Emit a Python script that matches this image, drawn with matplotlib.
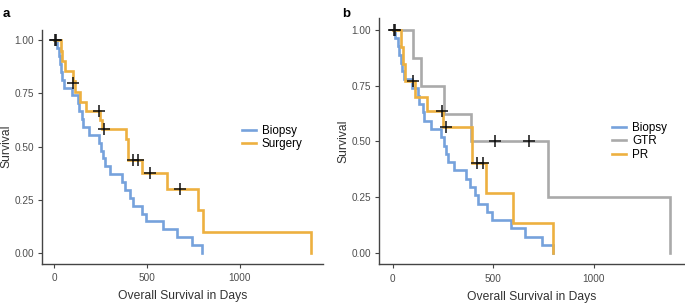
import matplotlib
matplotlib.use("Agg")
import matplotlib.pyplot as plt

plt.rcParams['font.family'] = ['Liberation Sans', 'DejaVu Sans']

# ---- data (days, survival after each step) ----
biopsy_days = [0, 13, 25, 30, 38, 43, 54, 94, 125, 131, 148, 153, 188, 240, 252, 262, 275, 302,
               365, 382, 410, 422, 470, 493, 587, 660, 740, 795]
biopsy_surv = [1.0] + [k / 27 for k in range(26, -1, -1)]

surgery_days = [0, 34, 41, 60, 100, 112, 138, 170, 247, 255, 387, 395, 470, 607, 775, 798, 1380]
surgery_surv = [1.0, 0.952, 0.905, 0.857, 0.81, 0.759, 0.712, 0.667, 0.625, 0.583, 0.535,
                0.437, 0.375, 0.30, 0.20, 0.10, 0.0]
surgery_cens_days = [6, 10, 100, 242, 267, 424, 451, 514, 675]
surgery_cens_surv = [1.0, 1.0, 0.80, 0.667, 0.583, 0.437, 0.437, 0.375, 0.30]

gtr_days = [0, 100, 138, 255, 387, 772, 1378]
gtr_surv = [1.0, 0.875, 0.75, 0.625, 0.5, 0.25, 0.0]
gtr_cens_days = [510, 675]
gtr_cens_surv = [0.5, 0.5]

pr_days = [0, 41, 50, 62, 112, 170, 247, 392, 465, 600, 797]
pr_surv = [1.0, 0.923, 0.846, 0.769, 0.70, 0.636, 0.565, 0.405, 0.27, 0.135, 0.0]
pr_cens_days = [5, 9, 98, 242, 266, 421, 449]
pr_cens_surv = [1.0, 1.0, 0.769, 0.636, 0.565, 0.405, 0.405]

blue = '#76A2DC'
orange = '#EDB040'
gray = '#AAAAAA'

fig = plt.figure(figsize=(6.85, 3.05), dpi=100)
ax_a = fig.add_axes([0.0606, 0.1357, 0.4115, 0.7669])
ax_b = fig.add_axes([0.5533, 0.1328, 0.4453, 0.8066])


def style(ax):
    ax.set_xlim(-69, 1449)
    ax.set_ylim(-0.05, 1.05)
    for s in ['top', 'right']:
        ax.spines[s].set_visible(False)
    for s in ['left', 'bottom']:
        ax.spines[s].set_color('#444444')
        ax.spines[s].set_linewidth(1.0)
    ax.set_xticks([0, 500, 1000])
    ax.set_yticks([0, 0.25, 0.5, 0.75, 1.0])
    ax.set_yticklabels(['0.00', '0.25', '0.50', '0.75', '1.00'])
    ax.tick_params(length=3, width=0.8, color='#444444', labelsize=7.2,
                   labelcolor='#4D4D4D', pad=2.5)
    ax.tick_params(axis='x', pad=4)
    ax.set_xlabel('Overall Survival in Days', fontsize=8.7, color='#333333', labelpad=5)
    ax.set_ylabel('Survival', fontsize=8.7, color='#333333', labelpad=1.5)


def km(ax, days, surv, color, label):
    ax.step(days, surv, where='post', color=color, lw=1.9, label=label, solid_joinstyle='miter')


# panel a
km(ax_a, biopsy_days, biopsy_surv, blue, 'Biopsy')
km(ax_a, surgery_days, surgery_surv, orange, 'Surgery')
ax_a.plot(surgery_cens_days, surgery_cens_surv, '+', color='#111111', ms=8, mew=1.1)
style(ax_a)
ax_a.legend(loc='center left', bbox_to_anchor=(0.69, 0.54), frameon=False, fontsize=8.4,
            handlelength=1.2, handletextpad=0.5, labelspacing=0.1, borderpad=0)

# panel b
km(ax_b, biopsy_days, biopsy_surv, blue, 'Biopsy')
km(ax_b, gtr_days, gtr_surv, gray, 'GTR')
km(ax_b, pr_days, pr_surv, orange, 'PR')
ax_b.plot(pr_cens_days, pr_cens_surv, '+', color='#111111', ms=8, mew=1.1)
ax_b.plot(gtr_cens_days, gtr_cens_surv, '+', color='#111111', ms=8, mew=1.1)
style(ax_b)
ax_b.legend(loc='center left', bbox_to_anchor=(0.745, 0.50), frameon=False, fontsize=8.4,
            handlelength=1.2, handletextpad=0.5, labelspacing=0.1, borderpad=0)

fig.text(0.004, 0.975, 'a', fontsize=9.5, fontweight='bold', va='top')
fig.text(0.500, 0.975, 'b', fontsize=9.5, fontweight='bold', va='top')

fig.savefig('out.png', dpi=100)
